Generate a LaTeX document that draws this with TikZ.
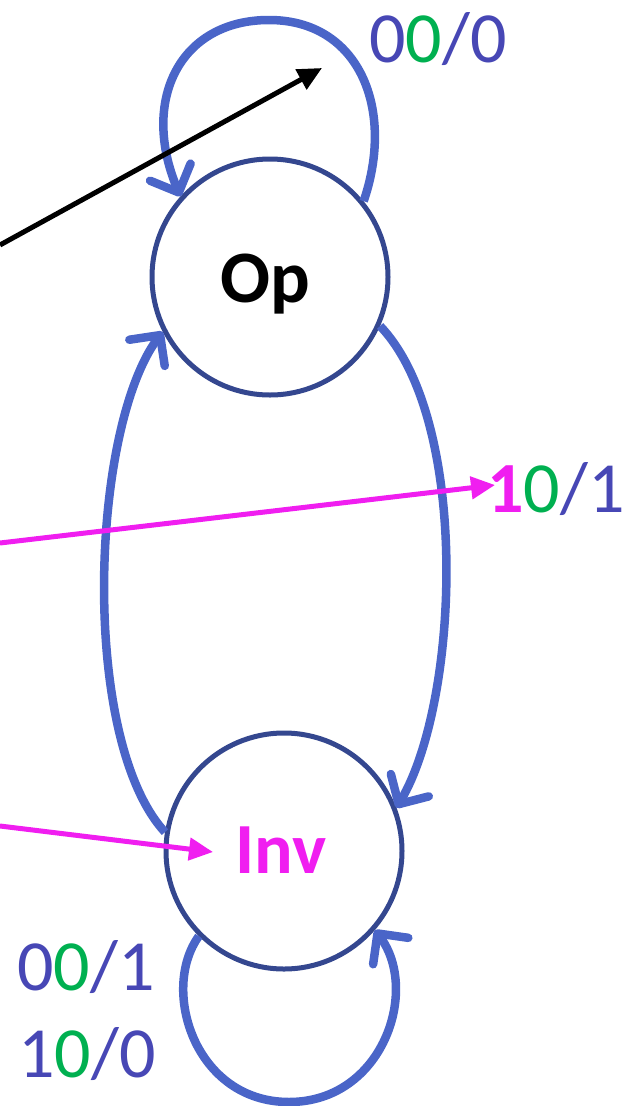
\documentclass[tikz,border=0pt]{standalone}
\usepackage{fontspec}
\setmainfont{Carlito}
\usetikzlibrary{arrows.meta}
\definecolor{stroke}{HTML}{34478F}
\definecolor{arc}{HTML}{4A65C8}
\definecolor{txtblue}{HTML}{4747B5}
\definecolor{grn}{HTML}{00B050}
\definecolor{mag}{HTML}{F01EF0}
\tikzset{
  state/.style={circle,draw=stroke,line width=5pt,minimum size=236pt,inner sep=0pt},
  trans/.style={draw=arc,line width=8.5pt,-{Straight Barb[length=22pt,width=44pt,line cap=round,line join=round]}},
  lbl/.style={anchor=base,inner sep=0pt,font=\fontsize{72}{86}\selectfont,text=txtblue},
  ptr/.style={line width=5pt,-{Triangle[length=24pt,width=22pt]}},
}
\begin{document}
\begin{tikzpicture}[x=1pt,y=-1pt]
\useasboundingbox (0,0) rectangle (628,1106);
\node[state] (op) at (270,277) {};
\node[state] (inv) at (284,851) {};
\node[anchor=base,inner sep=0pt,font=\fontsize{74}{86}\selectfont\bfseries] (optxt) at (265,302) {Op};
\node[anchor=base,inner sep=0pt,font=\fontsize{72}{86}\selectfont\bfseries,text=mag] (invtxt) at (281,873) {Inv};
% transitions
\draw[trans] (op.39) .. controls (395,110) and (360,20) .. (269,20)
  .. controls (180,20) and (140,100) .. (op.138);
\draw[trans] (op.-24) .. controls (470,420) and (460,700) .. (inv.21);
\draw[trans] (inv.171) .. controls (80,740) and (90,430) .. (op.207);
\draw[trans] (inv.-135) .. controls (160,990) and (195,1102) .. (289,1102)
  .. controls (383,1102) and (420,990) .. (inv.-41);
% labels
\node[lbl] (l1) at (438,62) {0\textcolor{grn}{0}/0};
\node[lbl] (l2) at (556,512) {\textcolor{mag}{\bfseries 1}\textcolor{grn}{0}/1};
\node[lbl] (l3) at (86,990) {0\textcolor{grn}{0}/1};
\node[lbl] (l4) at (87,1077) {1\textcolor{grn}{0}/0};
% pointers
\coordinate (b0) at (0,245);
\coordinate (b1) at (322,68);
\coordinate (m0) at (0,543);
\coordinate (m1) at (495,485);
\coordinate (n0) at (0,826);
\coordinate (n1) at (213,852);
\draw[ptr,black] (b0) -- (b1);
\draw[ptr,mag] (m0) -- (m1);
\draw[ptr,mag] (n0) -- (n1);
\end{tikzpicture}
\end{document}
